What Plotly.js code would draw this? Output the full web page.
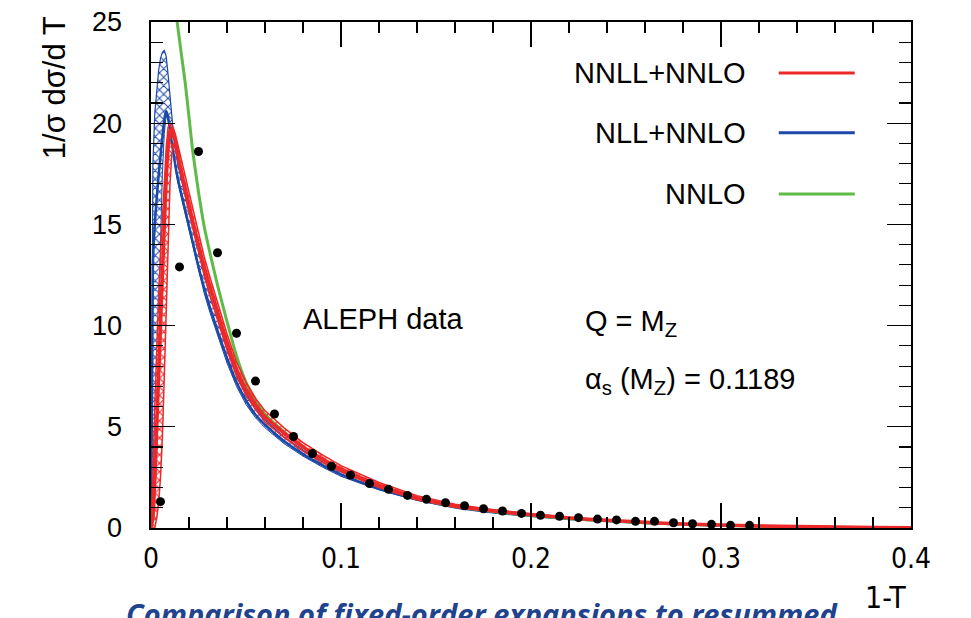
<!DOCTYPE html>
<html>
<head>
<meta charset="utf-8">
<script src="https://cdn.plot.ly/plotly-3.0.1.min.js"></script>
<style>html,body{margin:0;padding:0;background:#fff;}#chart{width:971px;height:618px;}</style>
</head>
<body>
<div id="chart"></div>
<script>
// ---- theory curve grid (1-T) ----
const xTh = [0, 0.001, 0.002, 0.003, 0.004, 0.005, 0.006, 0.007, 0.008, 0.009, 0.010, 0.011, 0.012, 0.013, 0.014, 0.016, 0.018, 0.020, 0.022, 0.025, 0.028, 0.031, 0.035, 0.040, 0.045, 0.050, 0.055, 0.060, 0.070, 0.080, 0.090, 0.100, 0.120, 0.140, 0.160, 0.180, 0.200, 0.220, 0.240, 0.260, 0.280, 0.300, 0.320, 0.340, 0.360, 0.380, 0.400];

// NNLL+NNLO (red)
const nnllCentral = [0, 0.5, 2.5, 5.0, 7.5, 10.0, 12.5, 15.0, 17.2, 18.8, 19.6, 19.7, 19.4, 19.0, 18.5, 17.6, 16.8, 16.0, 15.15, 14.0, 12.9, 11.95, 10.7, 9.2, 7.85, 6.85, 6.1, 5.5, 4.7, 4.0, 3.42, 2.92, 2.12, 1.5, 1.1, 0.85, 0.66, 0.5, 0.38, 0.28, 0.2, 0.15, 0.1, 0.07, 0.045, 0.025, 0.01];
const nnllUpper   = [0, 2.5, 6.0, 9.0, 11.5, 13.5, 15.5, 17.3, 18.8, 19.8, 20.0, 19.9, 19.7, 19.4, 19.0, 18.1, 17.3, 16.5, 15.7, 14.5, 13.4, 12.4, 11.1, 9.6, 8.2, 7.2, 6.4, 5.8, 4.95, 4.22, 3.62, 3.08, 2.25, 1.6, 1.18, 0.9, 0.7, 0.53, 0.4, 0.3, 0.21, 0.16, 0.11, 0.075, 0.05, 0.03, 0.012];
const nnllLower   = [0, 0, 0, 0.5, 1.2, 2.5, 4.5, 7.5, 11.0, 14.5, 17.0, 18.5, 19.0, 18.7, 18.2, 17.2, 16.4, 15.6, 14.8, 13.6, 12.5, 11.5, 10.3, 8.8, 7.5, 6.55, 5.85, 5.25, 4.47, 3.8, 3.25, 2.78, 2.0, 1.4, 1.02, 0.8, 0.62, 0.47, 0.36, 0.26, 0.19, 0.13, 0.09, 0.06, 0.04, 0.02, 0.008];

// NLL+NNLO (blue)
const nllCentral = [0, 13.0, 15.0, 16.3, 17.4, 18.4, 19.3, 20.2, 20.6, 20.3, 19.7, 19.0, 18.4, 17.8, 17.3, 16.5, 15.7, 14.9, 14.1, 12.9, 11.85, 10.9, 9.75, 8.4, 7.2, 6.3, 5.6, 5.1, 4.3, 3.65, 3.12, 2.65, 1.95, 1.42, 1.03, 0.78, 0.6, 0.45, 0.34, 0.25, 0.18, 0.13, 0.085, 0.055, 0.032, 0.016, 0.006];
const nllUpper   = [0, 18.0, 20.5, 21.8, 22.6, 23.2, 23.5, 23.6, 23.3, 22.4, 21.3, 20.3, 19.3, 18.6, 18.0, 17.2, 16.4, 15.6, 14.8, 13.6, 12.5, 11.5, 10.3, 8.9, 7.6, 6.65, 5.9, 5.35, 4.5, 3.85, 3.3, 2.8, 2.1, 1.5, 1.1, 0.83, 0.63, 0.48, 0.36, 0.27, 0.19, 0.14, 0.1, 0.065, 0.04, 0.02, 0.008];
const nllLower   = [0, 0.5, 1.5, 3.5, 8.0, 14.0, 17.5, 19.5, 20.4, 20.1, 19.5, 18.9, 18.3, 17.7, 17.1, 16.3, 15.5, 14.7, 13.9, 12.7, 11.6, 10.65, 9.5, 8.15, 7.0, 6.1, 5.45, 4.95, 4.17, 3.55, 3.02, 2.55, 1.88, 1.36, 1.0, 0.76, 0.58, 0.44, 0.33, 0.24, 0.17, 0.12, 0.08, 0.05, 0.03, 0.015, 0.005];

// NNLO (green)
const xNnlo = [0.0125, 0.0135, 0.016, 0.018, 0.020, 0.022, 0.025, 0.028, 0.031, 0.035, 0.040, 0.045, 0.050, 0.055, 0.060, 0.070, 0.080, 0.090, 0.100, 0.120, 0.140, 0.160, 0.180, 0.200, 0.220, 0.240, 0.260, 0.280, 0.300, 0.320, 0.340, 0.360, 0.380, 0.400];
const yNnlo = [26.0, 25.2, 23.4, 22.0, 20.3, 18.6, 16.6, 14.9, 13.6, 12.0, 10.2, 8.5, 7.2, 6.35, 5.62, 4.75, 4.0, 3.4, 2.9, 2.08, 1.47, 1.07, 0.82, 0.62, 0.47, 0.36, 0.26, 0.19, 0.14, 0.095, 0.065, 0.04, 0.022, 0.006];

// ALEPH data
const xData = [0.005, 0.015, 0.025, 0.035, 0.045, 0.055, 0.065, 0.075, 0.085, 0.095, 0.105, 0.115, 0.125, 0.135, 0.145, 0.155, 0.165, 0.175, 0.185, 0.195, 0.205, 0.215, 0.225, 0.235, 0.245, 0.255, 0.265, 0.275, 0.285, 0.295, 0.305, 0.315];
const yData = [1.3, 12.9, 18.6, 13.6, 9.62, 7.26, 5.63, 4.52, 3.68, 3.05, 2.62, 2.2, 1.91, 1.61, 1.42, 1.25, 1.10, 0.95, 0.84, 0.72, 0.63, 0.58, 0.51, 0.44, 0.40, 0.33, 0.33, 0.26, 0.21, 0.18, 0.13, 0.13];

const xTickVals = [0, 0.1, 0.2, 0.3, 0.4];
const xTickText = ['0', '0.1', '0.2', '0.3', '0.4'];
const yTickVals = [0, 5, 10, 15, 20, 25];
const yTickText = ['0', '5', '10', '15', '20', '25'];

const legendNames = ['NNLL+NNLO', 'NLL+NNLO', 'NNLO'];

const RED = 'rgb(238,40,40)';
const BLUE = 'rgb(28,72,168)';
const GREEN = 'rgb(96,186,72)';
const FONT = 'Liberation Sans, Arial, Helvetica, sans-serif';
const NARROW = 'Liberation Sans Narrow, DejaVu Sans Condensed, Liberation Sans, Arial, sans-serif';

const traces = [
  // blue band
  {x: xTh, y: nllLower, mode: 'lines', line: {color: BLUE, width: 1}, showlegend: false, hoverinfo: 'skip'},
  {x: xTh, y: nllUpper, mode: 'lines', line: {color: BLUE, width: 1.2}, fill: 'tonexty',
   fillcolor: 'rgba(28,72,168,0.12)',
   fillpattern: {shape: 'x', fgcolor: BLUE, bgcolor: 'rgba(255,255,255,0)', size: 6, solidity: 0.3},
   showlegend: false, hoverinfo: 'skip'},
  {x: xTh, y: nllCentral, mode: 'lines', line: {color: BLUE, width: 2.5, shape: 'spline', smoothing: 0.6}, showlegend: false, hoverinfo: 'skip'},
  // green
  {x: xNnlo, y: yNnlo, mode: 'lines', line: {color: GREEN, width: 3, shape: 'spline', smoothing: 0.6}, showlegend: false, hoverinfo: 'skip'},
  // red band
  {x: xTh, y: nnllLower, mode: 'lines', line: {color: RED, width: 1.5}, showlegend: false, hoverinfo: 'skip'},
  {x: xTh, y: nnllUpper, mode: 'lines', line: {color: RED, width: 1.5}, fill: 'tonexty',
   fillcolor: 'rgba(238,40,40,0.22)',
   fillpattern: {shape: 'x', fgcolor: RED, bgcolor: 'rgba(255,255,255,0)', size: 6, solidity: 0.35},
   showlegend: false, hoverinfo: 'skip'},
  {x: xTh, y: nnllCentral, mode: 'lines', line: {color: RED, width: 3.5, shape: 'spline', smoothing: 0.6}, showlegend: false, hoverinfo: 'skip'},
  // data
  {x: xData, y: yData, mode: 'markers', marker: {color: 'black', size: 9}, showlegend: false}
];

const legendColors = [RED, BLUE, GREEN];
const legendY = [0.899, 0.781, 0.660];
const annotations = [];
const shapes = [];
for (let i = 0; i < legendNames.length; i++) {
  annotations.push({xref: 'paper', yref: 'paper', x: 0.7855, y: legendY[i], xanchor: 'right', yanchor: 'middle',
    text: legendNames[i], showarrow: false, font: {family: FONT, size: 29, color: 'black'}});
  shapes.push({type: 'line', xref: 'paper', yref: 'paper', x0: 0.826, x1: 0.926, y0: legendY[i], y1: legendY[i],
    line: {color: legendColors[i], width: 3}});
}
annotations.push(
  {xref: 'paper', yref: 'paper', x: 0.305, y: 0.413, xanchor: 'center', yanchor: 'middle',
   text: 'ALEPH data', showarrow: false, font: {family: FONT, size: 29, color: 'black'}},
  {xref: 'paper', yref: 'paper', x: 0.569, y: 0.405, xanchor: 'left', yanchor: 'middle',
   text: 'Q = M<sub>Z</sub>', showarrow: false, font: {family: FONT, size: 29, color: 'black'}},
  {xref: 'paper', yref: 'paper', x: 0.569, y: 0.29, xanchor: 'left', yanchor: 'middle',
   text: 'α<sub>s</sub> (M<sub>Z</sub>) = 0.1189', showarrow: false, font: {family: FONT, size: 29, color: 'black'}},
  {xref: 'paper', yref: 'paper', x: -0.126, y: 1.015, xanchor: 'center', yanchor: 'top', textangle: -90,
   text: '1/σ dσ/d T', showarrow: false, font: {family: FONT, size: 31, color: 'black'}},
  {xref: 'paper', yref: 'paper', x: 0.996, y: -0.138, xanchor: 'right', yanchor: 'middle',
   text: '1-T', showarrow: false, font: {family: NARROW, size: 30, color: 'black'}},
  {xref: 'paper', yref: 'paper', x: 0.4355, y: -0.127, xanchor: 'center', yanchor: 'top',
   text: '<b><i>Comparison of fixed-order expansions to resummed</i></b>', showarrow: false,
   font: {family: 'Open Sans, sans-serif', size: 29, color: '#21428c'}}
);

const layout = {
  width: 971, height: 618,
  margin: {l: 151, r: 60, t: 22, b: 90, pad: 0},
  paper_bgcolor: 'white', plot_bgcolor: 'white',
  showlegend: false,
  font: {family: FONT, color: 'black'},
  xaxis: {
    range: [0, 0.4], tickvals: xTickVals, ticktext: xTickText,
    ticks: 'inside', ticklen: 25, tickwidth: 1.3, tickcolor: 'black',
    minor: {dtick: 0.02, ticks: 'inside', ticklen: 11, tickwidth: 1.1, tickcolor: 'black', showgrid: false},
    showline: true, linecolor: 'black', linewidth: 1.6, mirror: 'allticks',
    showgrid: false, zeroline: false, ticklabelstandoff: 5,
    tickfont: {family: NARROW, size: 28, color: 'black'}
  },
  yaxis: {
    range: [0, 25], tickvals: yTickVals, ticktext: yTickText,
    ticks: 'inside', ticklen: 24, tickwidth: 1.3, tickcolor: 'black',
    minor: {dtick: 1, ticks: 'inside', ticklen: 12, tickwidth: 1.1, tickcolor: 'black', showgrid: false},
    showline: true, linecolor: 'black', linewidth: 1.6, mirror: 'allticks',
    showgrid: false, zeroline: false, ticklabelstandoff: 22,
    tickfont: {family: FONT, size: 27, color: 'black'}
  },
  annotations: annotations,
  shapes: shapes
};

Plotly.newPlot('chart', traces, layout, {displayModeBar: false, staticPlot: true});
</script>
</body>
</html>
